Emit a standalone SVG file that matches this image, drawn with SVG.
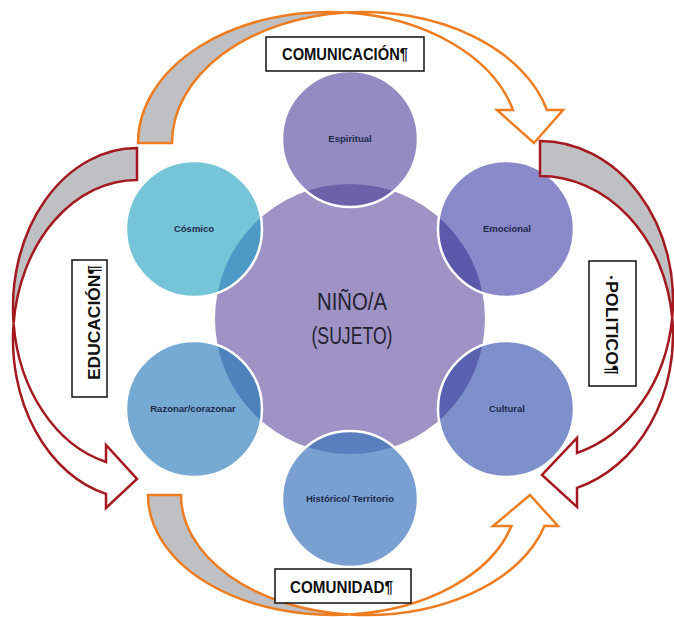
<svg xmlns="http://www.w3.org/2000/svg" width="674" height="617" viewBox="0 0 674 617">
<defs>
<style>
.sat{stroke:none}
.ring{fill:none;stroke:#ffffff;stroke-width:2.5}
.sat-label{font-family:"Liberation Sans",Arial,sans-serif;font-weight:bold;font-size:9.5px;fill:#1c2a4a;text-anchor:middle}
.center-label{font-family:"Liberation Sans",Arial,sans-serif;font-size:23px;fill:#222230;text-anchor:middle}
.box{fill:#ffffff;stroke:#111111;stroke-width:1.5}
.box-text{font-family:"Liberation Sans",Arial,sans-serif;font-weight:bold;font-size:17px;fill:#111111}
.back-o{fill:#bfc0c3;stroke:#ee7d22;stroke-width:2.5;stroke-linejoin:miter}
.front-o{fill:#ffffff;stroke:#ee7d22;stroke-width:2.5;stroke-linejoin:miter}
.back-r{fill:#bfc0c3;stroke:#a3191f;stroke-width:2.5;stroke-linejoin:miter}
.front-r{fill:#ffffff;stroke:#a3191f;stroke-width:2.5;stroke-linejoin:miter}
</style>
<clipPath id="centerClip"><circle cx="350" cy="319" r="135"/></clipPath>
</defs>
<rect x="0" y="0" width="674" height="617" fill="#ffffff"/>

<g id="node-center">
<circle cx="350" cy="319" r="135" fill="#9f92c4"/>
</g>

<g id="node-espiritual">
<circle class="sat" cx="350" cy="139" r="68" fill="#938bc2"/>
<circle cx="350" cy="139" r="68" fill="#6e61aa" clip-path="url(#centerClip)"/>
<circle class="ring" cx="350" cy="139" r="68"/>
<text class="sat-label" x="350" y="142">Espiritual</text>
</g>

<g id="node-emocional">
<circle class="sat" cx="506" cy="229" r="68" fill="#8a89c9"/>
<circle cx="506" cy="229" r="68" fill="#5d58ab" clip-path="url(#centerClip)"/>
<circle class="ring" cx="506" cy="229" r="68"/>
<text class="sat-label" x="507" y="232">Emocional</text>
</g>

<g id="node-cultural">
<circle class="sat" cx="506" cy="409" r="68" fill="#7e90cb"/>
<circle cx="506" cy="409" r="68" fill="#5a61b0" clip-path="url(#centerClip)"/>
<circle class="ring" cx="506" cy="409" r="68"/>
<text class="sat-label" x="507" y="412">Cultural</text>
</g>

<g id="node-historico">
<circle class="sat" cx="350" cy="499" r="68" fill="#7aa0d1"/>
<circle cx="350" cy="499" r="68" fill="#5b7ebf" clip-path="url(#centerClip)"/>
<circle class="ring" cx="350" cy="499" r="68"/>
<text class="sat-label" x="350" y="502">Histórico/ Territorio</text>
</g>

<g id="node-razonar">
<circle class="sat" cx="194" cy="409" r="68" fill="#76aad3"/>
<circle cx="194" cy="409" r="68" fill="#4e82bd" clip-path="url(#centerClip)"/>
<circle class="ring" cx="194" cy="409" r="68"/>
<text class="sat-label" x="193" y="412">Razonar/corazonar</text>
</g>

<g id="node-cosmico">
<circle class="sat" cx="194" cy="229" r="68" fill="#76c4d8"/>
<circle cx="194" cy="229" r="68" fill="#4e9ac6" clip-path="url(#centerClip)"/>
<circle class="ring" cx="194" cy="229" r="68"/>
<text class="sat-label" x="194" y="232">Cósmico</text>
</g>

<g id="node-center-label">
<text class="center-label" x="352" y="310" textLength="70" lengthAdjust="spacingAndGlyphs">NIÑO/A</text>
<text class="center-label" x="352" y="344" textLength="81" lengthAdjust="spacingAndGlyphs">(SUJETO)</text>
</g>

<g id="connectors">
<g id="arrow-top">
<path class="back-o" d="M138,143 A190.6,131 0 0 1 345.6,12.5 A190.6,131 0 0 0 172,143 Z"/>
<path class="front-o" d="M345.6,12.5 A190.6,131 0 0 1 547,110 L563,110 L534,143 L497,110 L513,110 A190.6,131 0 0 0 345.6,12.5 Z"/>
</g>
<g id="arrow-right">
<path class="back-r" d="M540,141 A133,159.1 0 0 1 672.2,317.6 A133,159.1 0 0 0 540,176 Z"/>
<path class="front-r" d="M672.2,317.6 A133,159.1 0 0 1 577,487.9 L577,507 L542,475 L577,438 L577,453 A133,159.1 0 0 0 672.2,317.6 Z"/>
</g>
<g id="arrow-bottom">
<path class="back-o" d="M148,495 A184.9,120 0 0 0 349.3,614.5 A184.9,120 0 0 1 181,495 Z"/>
<path class="front-o" d="M349.3,614.5 A184.9,120 0 0 0 544.4,526 L558,526 L530,495 L493,526 L511.4,526 A184.9,120 0 0 1 349.3,614.5 Z"/>
</g>
<g id="arrow-left">
<path class="back-r" d="M137,148 A124,159.5 0 0 0 13.6,323.5 A124,159.5 0 0 1 137,180 Z"/>
<path class="front-r" d="M13.6,323.5 A124,159.5 0 0 0 106,493.9 L106,508 L137,479 L106,445 L106,462 A124,159.5 0 0 1 13.6,323.5 Z"/>
</g>
</g>

<g id="node-comunicacion">
<rect class="box" x="266" y="37" width="158" height="34"/>
<text class="box-text" x="282" y="60" textLength="126" lengthAdjust="spacingAndGlyphs">COMUNICACIÓN¶</text>
</g>

<g id="node-comunidad">
<rect class="box" x="275" y="569" width="136" height="34"/>
<text class="box-text" x="290" y="593" textLength="103" lengthAdjust="spacingAndGlyphs">COMUNIDAD¶</text>
</g>

<g id="node-educacion">
<rect class="box" x="72" y="260" width="35" height="137"/>
<text class="box-text" transform="translate(100,380) rotate(-90)" x="0" y="0" textLength="115" lengthAdjust="spacingAndGlyphs">EDUCACIÓN¶</text>
</g>

<g id="node-politico">
<rect class="box" x="589" y="261" width="47" height="125"/>
<text class="box-text" transform="translate(606,275) rotate(90)" x="0" y="0" textLength="100" lengthAdjust="spacingAndGlyphs">·POLITICO¶</text>
</g>
</svg>
